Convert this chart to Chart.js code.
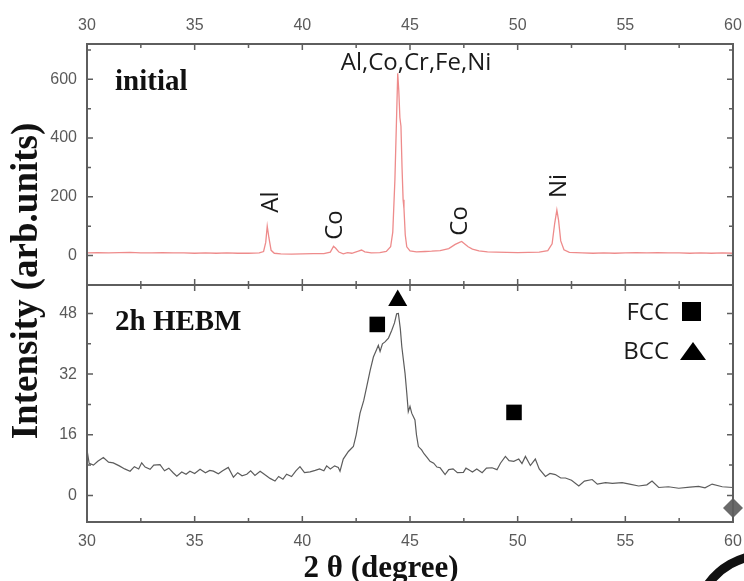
<!DOCTYPE html>
<html>
<head>
<meta charset="utf-8">
<script src="https://cdn.jsdelivr.net/npm/chart.js@4.4.1/dist/chart.umd.min.js"></script>
<style>
  html, body { margin: 0; padding: 0; background: #ffffff; }
  #wrap { position: relative; width: 744px; height: 581px; }
  canvas { display: block; }
</style>
</head>
<body>
<div id="wrap"><canvas id="c" width="744" height="581"></canvas></div>
<script>
// ---------- data ----------
const initialTwoTheta = [30.0,30.5,31.0,31.5,32.0,32.5,33.0,33.5,34.0,34.5,35.0,35.5,36.0,36.5,37.0,37.5,38.0,38.2,38.3,38.37,38.45,38.55,38.7,39.0,39.5,40.0,40.5,41.0,41.3,41.45,41.55,41.7,41.9,42.1,42.3,42.6,42.75,42.9,43.2,43.6,43.9,44.1,44.2,44.3,44.38,44.43,44.48,44.53,44.58,44.63,44.68,44.72,44.78,44.85,45.0,45.3,45.7,46.0,46.4,46.8,47.1,47.3,47.4,47.5,47.7,47.9,48.2,48.6,49.0,49.5,50.0,50.5,51.0,51.4,51.6,51.72,51.82,51.9,52.0,52.15,52.4,53.0,53.5,54.0,54.5,55.0,55.5,56.0,56.5,57.0,57.5,58.0,58.5,59.0,59.5,60.0];
const initialIntensity = [9,10,9,10,11,9,9,10,9,9,8,9,8,9,8,8,9,14,45,100,60,18,8,6,5,6,7,7,12,32,25,12,6,10,8,15,19,13,9,10,14,30,80,260,480,620,560,470,440,300,190,160,70,30,16,13,14,15,17,24,38,45,48,42,30,22,16,13,12,11,10,11,12,17,40,110,155,120,50,20,11,9,8,9,8,9,10,9,10,9,9,8,9,8,9,8];

const hebmTwoTheta = [30.0,30.1,30.3,30.5,30.76,31.0,31.22,31.5,31.75,32.0,32.2,32.4,32.54,32.7,32.93,33.1,33.39,33.6,33.8,34.0,34.17,34.4,34.6,34.78,35.0,35.25,35.5,35.7,35.87,36.1,36.3,36.56,36.8,37.0,37.2,37.42,37.6,37.8,38.04,38.25,38.5,38.73,38.9,39.1,39.27,39.5,39.7,39.89,40.1,40.36,40.6,40.8,41.0,41.13,41.3,41.5,41.67,41.75,41.9,42.14,42.37,42.5,42.68,42.85,42.99,43.15,43.3,43.45,43.53,43.61,43.72,43.84,44.0,44.15,44.28,44.38,44.46,44.55,44.62,44.77,44.85,44.92,45.0,45.08,45.23,45.3,45.39,45.54,45.65,45.8,45.93,46.1,46.25,46.4,46.63,46.8,47.0,47.2,47.48,47.6,47.73,47.9,48.1,48.35,48.55,48.81,49.04,49.2,49.43,49.6,49.82,50.05,50.2,50.36,50.59,50.82,51.0,51.29,51.5,51.75,52.0,52.22,52.5,52.84,53.1,53.46,53.7,54.08,54.4,54.85,55.2,55.62,56.0,56.24,56.55,57.0,57.48,58.0,58.4,58.7,59.03,59.5,60.0];
const hebmIntensity = [12,8.5,8,9,10,8.8,8.6,7.8,7,6.4,7.6,7,8.6,7.5,6.9,8,8.1,6.5,7.2,6,5.1,6.2,5.6,6.4,5.8,6.9,6,6.6,6.4,5.7,6.5,7.4,4.8,6,5.2,5.6,6.5,5.3,6.4,5.5,4.5,3.8,5,4.3,5.6,5,6.5,7.6,6,6.2,6.6,7,6.5,7.8,7,7.8,7.4,6.4,9.6,11.6,12.9,16,21.7,25,28.7,33,36.5,38.5,39.6,38,40,40.5,41.5,43.5,45.5,47.9,48,44,39.2,32.2,27,22.1,23.5,21.7,19.9,16,12.9,12,11,10,9,8.5,7.5,7.3,5.5,6.8,7,6,6.1,7.2,6.8,6.2,7,6,7.2,7.3,6.8,8.5,10.3,9.2,9,9.6,8.4,10.3,7.9,9.6,7,5,5.8,5.5,4.6,4.6,4,2.5,3.8,4.2,3,3.4,3.2,3.4,3,2.5,2.8,3.8,2.1,2.3,1.9,2.2,2.4,2,3,2.3,2.1];

const fccTwoTheta = [43.48, 49.83];
const fccIntensity = [45.1, 21.9];
const bccTwoTheta = [44.43];
const bccIntensity = [51.4];
const cornerTwoTheta = [60];
const cornerIntensity = [-3.3];

const xTickValues = [30, 35, 40, 45, 50, 55, 60];
const yTopTickValues = [0, 200, 400, 600];
const yBotTickValues = [0, 16, 32, 48];

const peakLabels = ['Al', 'Co', 'Co', 'Ni'];
const peakLabelTwoTheta = [38.55, 41.52, 47.32, 51.92];
const peakLabelIntensity = [182, 104, 118, 237];
const mainPeakLabel = 'Al,Co,Cr,Fe,Ni';
const mainPeakTwoTheta = 45.28;
const mainPeakIntensity = 655;

const panelTitles = ['initial', '2h HEBM'];
const legendLabels = ['FCC', 'BCC'];
const yTitle = 'Intensity (arb.units)';
const xTitle = '2 \u03b8 (degree)';

// ---------- helpers ----------
const pts = (xs, ys) => xs.map((x, i) => ({ x: x, y: ys[i] }));
const FRAME = '#5e5e5e';
const TICKCOL = '#5a5a5a';

const decorPlugin = {
  id: 'decor',
  afterDatasetsDraw(chart) {
    const ctx = chart.ctx;
    const xs = chart.scales.x;
    const panels = [chart.scales.yTop, chart.scales.yBot];
    const left = chart.chartArea.left, right = chart.chartArea.right;
    ctx.save();
    // frames
    ctx.strokeStyle = FRAME;
    ctx.lineWidth = 2;
    panels.forEach(p => { ctx.strokeRect(left, p.top, right - left, p.bottom - p.top); });
    // ticks
    ctx.lineWidth = 1.5;
    const majLen = 6, minLen = 4;
    const xMinor = [];
    for (let i = 0; i < xTickValues.length - 1; i++) xMinor.push((xTickValues[i] + xTickValues[i + 1]) / 2);
    panels.forEach((p, idx) => {
      ctx.beginPath();
      xTickValues.forEach(v => {
        const px = xs.getPixelForValue(v);
        ctx.moveTo(px, p.top); ctx.lineTo(px, p.top + majLen);
        ctx.moveTo(px, p.bottom); ctx.lineTo(px, p.bottom - majLen);
      });
      xMinor.forEach(v => {
        const px = xs.getPixelForValue(v);
        ctx.moveTo(px, p.top); ctx.lineTo(px, p.top + minLen);
        ctx.moveTo(px, p.bottom); ctx.lineTo(px, p.bottom - minLen);
      });
      const maj = idx === 0 ? yTopTickValues : yBotTickValues;
      const step = maj[1] - maj[0];
      maj.forEach(v => {
        const py = p.getPixelForValue(v);
        ctx.moveTo(left, py); ctx.lineTo(left + majLen, py);
        ctx.moveTo(right, py); ctx.lineTo(right - majLen, py);
      });
      for (let v = maj[0] - step / 2; v < p.max; v += step) {
        if (v <= p.min) continue;
        const py = p.getPixelForValue(v);
        ctx.moveTo(left, py); ctx.lineTo(left + minLen, py);
        ctx.moveTo(right, py); ctx.lineTo(right - minLen, py);
      }
      ctx.stroke();
    });

    // panel titles
    ctx.fillStyle = '#111';
    ctx.font = 'bold 29px "Liberation Serif", "Times New Roman", serif';
    ctx.textAlign = 'left';
    ctx.textBaseline = 'middle';
    ctx.fillText(panelTitles[0], left + 28, panels[0].top + 39);
    ctx.fillText(panelTitles[1], left + 28, panels[1].top + 38);

    // peak labels
    const yT = chart.scales.yTop;
    ctx.font = '24px "Open Sans", "DejaVu Sans", sans-serif';
    ctx.fillStyle = '#1a1a1a';
    ctx.textAlign = 'center';
    peakLabels.forEach((t, i) => {
      const px = xs.getPixelForValue(peakLabelTwoTheta[i]);
      const py = yT.getPixelForValue(peakLabelIntensity[i]);
      ctx.save();
      ctx.translate(px, py);
      ctx.rotate(-Math.PI / 2);
      ctx.fillText(t, 0, 0);
      ctx.restore();
    });
    ctx.fillText(mainPeakLabel, xs.getPixelForValue(mainPeakTwoTheta), yT.getPixelForValue(mainPeakIntensity));

    // legend (phase markers)
    ctx.textAlign = 'right';
    ctx.font = '24px "Open Sans", "DejaVu Sans", sans-serif';
    const legX = right - 64;
    const legY = [panels[1].top + 28, panels[1].top + 67];
    ctx.fillText(legendLabels[0], legX, legY[0]);
    ctx.fillText(legendLabels[1], legX, legY[1]);
    ctx.fillStyle = '#000';
    ctx.fillRect(legX + 13, legY[0] - 11, 19, 19);
    ctx.beginPath();
    ctx.moveTo(legX + 24, legY[1] - 10);
    ctx.lineTo(legX + 37, legY[1] + 8);
    ctx.lineTo(legX + 11, legY[1] + 8);
    ctx.closePath();
    ctx.fill();

    // axis titles
    ctx.fillStyle = '#111';
    ctx.font = 'bold 31px "Liberation Serif", "Times New Roman", serif';
    ctx.textAlign = 'center';
    ctx.fillText(xTitle, 381, 569);
    ctx.save();
    ctx.translate(27, 281);
    ctx.rotate(-Math.PI / 2);
    ctx.font = 'bold 37px "Liberation Serif", "Times New Roman", serif';
    ctx.fillText(yTitle, 0, 0);
    ctx.restore();

    // decorative arc (bottom-right corner)
    ctx.strokeStyle = '#111';
    ctx.lineWidth = 9;
    ctx.beginPath();
    ctx.arc(765, 625, 70, Math.PI * 1.17, Math.PI * 1.5);
    ctx.stroke();
    ctx.restore();
  }
};

const tickFont = { family: '"Liberation Sans", Arial, sans-serif', size: 16 };
const fitX = h => s => { s.height = h; s.paddingLeft = 0; s.paddingRight = 0; };

new Chart(document.getElementById('c'), {
  type: 'line',
  data: {
    datasets: [
      { label: 'initial', data: pts(initialTwoTheta, initialIntensity), xAxisID: 'x', yAxisID: 'yTop',
        borderColor: '#ee8b8b', borderWidth: 1.3, pointRadius: 0, tension: 0, fill: false },
      { label: '2h HEBM', data: pts(hebmTwoTheta, hebmIntensity), xAxisID: 'x', yAxisID: 'yBot',
        borderColor: '#5c5c5c', borderWidth: 1.2, pointRadius: 0, tension: 0, fill: false },
      { label: 'FCC', type: 'scatter', data: pts(fccTwoTheta, fccIntensity), xAxisID: 'x', yAxisID: 'yBot',
        pointStyle: 'rect', pointRadius: 11, backgroundColor: '#000', borderColor: '#000', borderWidth: 0 },
      { label: 'BCC', type: 'scatter', data: pts(bccTwoTheta, bccIntensity), xAxisID: 'x', yAxisID: 'yBot',
        pointStyle: 'triangle', pointRadius: 11, backgroundColor: '#000', borderColor: '#000', borderWidth: 0 },
      { label: 'corner', type: 'scatter', data: pts(cornerTwoTheta, cornerIntensity), xAxisID: 'x', yAxisID: 'yBot',
        pointStyle: 'rectRot', pointRadius: 10, backgroundColor: '#6a6a6a', borderColor: '#6a6a6a', borderWidth: 0, clip: false }
    ]
  },
  options: {
    responsive: false,
    animation: false,
    layout: { padding: { left: 0, right: 11, top: 0, bottom: 0 } },
    plugins: { legend: { display: false }, tooltip: { enabled: false } },
    scales: {
      x: {
        type: 'linear', position: 'bottom', min: 30, max: 60,
        afterBuildTicks: s => { s.ticks = xTickValues.map(v => ({ value: v })); },
        ticks: { color: TICKCOL, font: tickFont, padding: 10, maxRotation: 0, autoSkip: false },
        grid: { display: false, drawTicks: false }, border: { display: false },
        afterFit: fitX(59)
      },
      x2: {
        type: 'linear', position: 'top', min: 30, max: 60,
        afterBuildTicks: s => { s.ticks = xTickValues.map(v => ({ value: v })); },
        ticks: { color: TICKCOL, font: tickFont, padding: 9, maxRotation: 0, autoSkip: false },
        grid: { display: false, drawTicks: false }, border: { display: false },
        afterFit: fitX(44)
      },
      yBot: {
        type: 'linear', position: 'left', stack: 'panels', stackWeight: 237, min: -7, max: 55.5,
        afterBuildTicks: s => { s.ticks = yBotTickValues.map(v => ({ value: v })); },
        ticks: { color: TICKCOL, font: tickFont, padding: 10, autoSkip: false },
        grid: { display: false, drawTicks: false }, border: { display: false },
        afterFit: s => { s.width = 87; s.paddingTop = 0; s.paddingBottom = 0; }
      },
      yTop: {
        type: 'linear', position: 'left', stack: 'panels', stackWeight: 241, min: -100, max: 720,
        afterBuildTicks: s => { s.ticks = yTopTickValues.map(v => ({ value: v })); },
        ticks: { color: TICKCOL, font: tickFont, padding: 10, autoSkip: false },
        grid: { display: false, drawTicks: false }, border: { display: false },
        afterFit: s => { s.width = 87; s.paddingTop = 0; s.paddingBottom = 0; }
      }
    }
  },
  plugins: [decorPlugin]
});
</script>
</body>
</html>
